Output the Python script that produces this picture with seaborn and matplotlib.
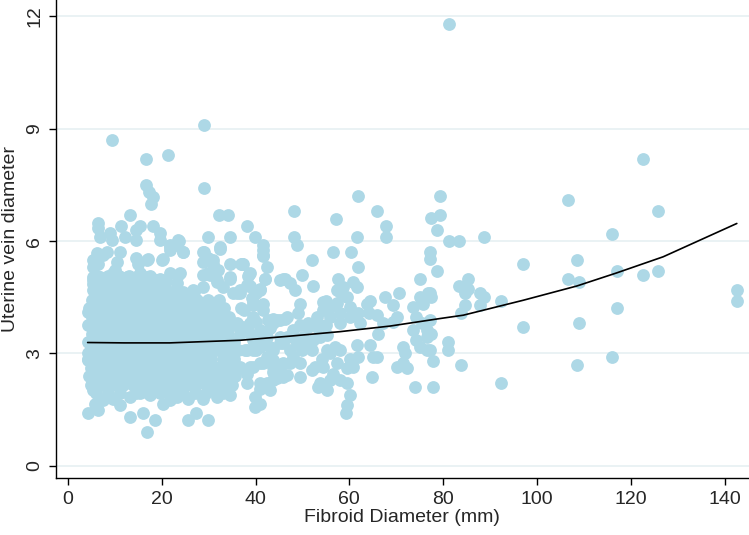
import numpy as np
import pandas as pd
import matplotlib
matplotlib.use('Agg')
import matplotlib.pyplot as plt
import seaborn as sns

# fibroid diameter (mm), uterine vein diameter
# sparse right tail
tail_pts = [(81.3, 11.8), (122.7, 8.2), (79.3, 7.2), (106.6, 7.09), (125.9, 6.8), (77.5, 6.61),
            (79.3, 6.69), (78.6, 6.29), (115.9, 6.19), (81.3, 6.0), (83.4, 6.0), (88.6, 6.1),
            (77.2, 5.71), (77.2, 5.51), (78.6, 5.21), (97.0, 5.39), (108.6, 5.5), (106.6, 4.99),
            (109.0, 4.9), (117.0, 5.2), (122.7, 5.1), (125.9, 5.2), (85.3, 4.99), (83.4, 4.8),
            (85.3, 4.71), (84.6, 4.6), (87.9, 4.6), (88.6, 4.5), (92.3, 4.4), (84.6, 4.3),
            (87.9, 4.3), (83.9, 4.09), (77.2, 4.6), (77.5, 4.5), (142.6, 4.7), (142.6, 4.4),
            (77.2, 3.89), (77.5, 3.51), (81.0, 3.3), (81.0, 3.1), (97.0, 3.7), (109.0, 3.8),
            (117.0, 4.2), (77.2, 3.1), (77.8, 2.79), (83.9, 2.69), (108.6, 2.69), (115.9, 2.89),
            (92.3, 2.2), (77.8, 2.1)]

# middle band 36-77 mm
mid_pts = [(61.9, 7.2), (48.3, 6.8), (57.2, 6.6), (65.8, 6.8), (67.9, 6.4), (67.9, 6.1),
           (38.2, 6.4), (39.9, 6.1), (41.6, 5.89), (41.6, 5.76), (41.6, 5.6), (48.3, 6.1),
           (48.8, 5.89), (61.6, 6.1), (56.6, 5.7), (60.3, 5.7), (52.0, 5.49), (61.9, 5.3),
           (42.4, 5.3), (37.4, 5.4), (38.7, 5.12), (42.0, 5.0), (38.7, 4.8), (40.9, 4.71),
           (45.9, 5.0), (47.3, 4.89), (48.4, 4.69), (49.8, 5.09), (52.3, 4.8), (57.5, 5.0),
           (60.8, 4.91), (61.6, 4.78), (58.0, 4.64), (59.4, 4.51), (55.0, 4.4), (55.9, 4.24),
           (57.3, 4.35), (58.0, 4.07), (60.1, 4.24), (64.4, 4.4), (67.6, 4.51), (70.6, 4.6),
           (69.2, 4.29), (75.1, 5.0), (76.8, 4.6), (36.7, 4.6), (37.5, 4.16), (39.5, 4.38),
           (39.5, 3.98), (41.6, 4.16), (42.7, 3.89), (44.5, 3.89), (46.3, 3.93), (49.5, 4.32),
           (49.1, 4.07), (51.2, 3.71), (49.5, 3.75), (55.0, 3.75), (55.9, 3.98), (58.0, 3.8),
           (60.1, 3.98), (61.9, 4.07), (62.3, 3.8), (64.2, 4.07), (65.8, 4.02), (67.2, 3.8),
           (69.4, 3.84), (70.1, 3.98), (73.6, 4.24), (74.3, 3.98), (75.4, 3.8), (76.5, 3.62),
           (66.2, 3.53), (64.4, 3.22), (65.1, 2.91), (64.8, 2.37), (61.6, 3.22), (61.9, 2.91),
           (60.1, 2.86), (60.8, 2.64), (59.4, 2.6), (59.4, 2.2), (60.1, 1.88), (59.4, 1.62),
           (59.3, 1.4), (58.0, 3.09), (57.0, 3.17), (55.9, 3.0), (57.3, 2.73), (56.6, 2.46),
           (58.0, 2.28), (55.9, 2.28), (55.2, 2.02), (55.2, 3.09), (54.1, 2.86), (54.4, 2.64),
           (52.7, 2.64), (52.0, 2.55), (53.7, 2.2), (53.4, 2.11), (52.0, 3.09), (52.3, 3.35),
           (49.8, 3.09), (49.5, 2.73), (49.5, 2.37), (48.0, 2.91), (47.3, 2.73), (45.9, 2.73),
           (45.2, 2.55), (45.9, 2.37), (43.8, 2.51), (43.8, 2.28), (43.1, 2.02), (40.9, 2.2),
           (39.9, 1.84), (39.9, 1.57), (40.9, 1.66), (42.4, 2.2), (38.8, 2.64), (38.1, 2.2),
           (36.7, 2.64), (38.1, 3.09), (40.9, 2.73), (40.2, 3.09), (42.4, 3.44), (45.2, 3.44),
           (43.8, 3.09), (45.9, 3.27), (47.7, 3.44), (48.0, 3.62), (50.2, 3.44), (50.9, 3.27),
           (53.7, 3.44), (55.2, 3.49), (65.8, 2.91), (74.0, 2.11), (70.1, 2.64), (71.5, 2.73),
           (71.9, 3.0), (71.5, 3.17), (72.2, 2.6), (73.6, 3.62), (74.3, 3.35), (75.1, 3.17),
           (76.5, 3.09), (76.5, 3.44), (75.1, 4.51), (75.8, 4.33), (43.8, 3.8), (40.9, 3.62),
           (38.8, 3.8), (37.4, 3.71), (36.7, 3.53), (39.5, 3.35), (37.7, 3.09), (40.9, 3.17),
           (42.4, 2.91), (43.8, 2.82), (47.3, 3.09), (48.8, 3.27), (51.2, 3.8), (53.0, 3.98),
           (53.0, 3.71), (54.4, 4.16), (57.3, 4.69), (58.7, 4.78), (63.7, 4.33), (54.4, 4.38)]

# upper edge of the main cloud
upper_pts = [(29.0, 9.1), (9.3, 8.7), (16.6, 8.19), (21.3, 8.3), (16.6, 7.51), (17.3, 7.32),
             (18.1, 7.18), (17.7, 6.99), (29.0, 7.41), (13.2, 6.69), (32.3, 6.69), (34.2, 6.69),
             (6.5, 6.49), (6.5, 6.34), (11.3, 6.4), (15.4, 6.4), (14.6, 6.29), (18.1, 6.4),
             (19.6, 6.21), (19.6, 6.03), (9.0, 6.21), (9.3, 6.03), (6.8, 6.11), (12.2, 6.11),
             (14.6, 6.03), (21.7, 5.85), (23.5, 6.03), (24.6, 5.71), (29.9, 6.11), (34.5, 6.11),
             (32.4, 5.85), (29.0, 5.71), (29.9, 5.54), (31.0, 5.4), (34.5, 5.4), (34.5, 5.05),
             (37.2, 5.4), (38.8, 5.14), (11.1, 5.71), (7.4, 5.63), (6.5, 5.4), (6.1, 5.54),
             (16.8, 5.49), (15.0, 5.4), (20.0, 5.49), (10.4, 5.45), (10.0, 5.23), (5.4, 5.31),
             (5.4, 5.05), (6.8, 5.05), (12.5, 5.05), (14.6, 5.05), (16.8, 5.05), (19.6, 5.0),
             (21.7, 5.14), (23.9, 5.14), (26.7, 4.69), (28.9, 4.78), (31.7, 4.96), (33.1, 4.78),
             (36.7, 4.69), (38.1, 4.82), (40.2, 4.6), (29.9, 5.14), (35.2, 4.6), (5.4, 5.49),
             (6.1, 5.67), (8.3, 5.71), (14.6, 5.54), (17.1, 5.51), (20.2, 5.51), (21.7, 5.76),
             (23.2, 5.89), (5.4, 4.96), (7.5, 5.0), (9.7, 5.14), (15.4, 5.14), (18.2, 5.0),
             (21.0, 4.96), (23.2, 4.87), (5.4, 4.69), (8.3, 4.69), (11.1, 4.78), (13.9, 4.64),
             (16.8, 4.69), (19.6, 4.78), (22.5, 4.6), (6.8, 4.33), (10.4, 4.38), (13.2, 4.42),
             (16.8, 4.33), (19.6, 4.42), (22.5, 4.29), (23.7, 6.0), (21.7, 5.89), (41.6, 5.63),
             (42.0, 4.98), (40.9, 4.69), (38.8, 4.8), (38.4, 5.06), (37.0, 5.4), (32.4, 5.8),
             (31.0, 5.49), (28.8, 5.71), (28.8, 5.45), (32.0, 5.22), (31.7, 4.91), (30.3, 5.09),
             (28.8, 5.09), (24.6, 5.71), (23.5, 5.09), (34.5, 5.0), (36.0, 4.6), (39.2, 4.47),
             (41.6, 4.33), (45.2, 4.96), (46.3, 5.0)]

# lower edge and right flank of the main cloud
low_pts = [(4.3, 4.11), (4.3, 3.75), (4.3, 2.82), (4.3, 3.02), (5.1, 2.28), (5.4, 2.02),
           (4.3, 1.4), (6.5, 1.48), (5.8, 1.66), (7.5, 1.75), (9.7, 1.79), (11.1, 1.62),
           (13.2, 1.3), (16.1, 1.4), (18.6, 1.22), (16.9, 0.89), (13.2, 1.84), (15.4, 1.93),
           (17.5, 1.88), (20.3, 1.66), (19.6, 1.93), (21.7, 1.75), (21.0, 2.02), (25.6, 1.22),
           (27.4, 1.4), (29.9, 1.22), (23.2, 1.84), (25.6, 1.79), (28.8, 1.79), (31.7, 1.84),
           (34.5, 1.88), (31.3, 2.02), (33.1, 2.06), (40.9, 2.06), (44.5, 2.33), (46.6, 2.42),
           (37.0, 4.2), (39.5, 4.29), (43.8, 3.93), (45.2, 3.89), (46.6, 3.98), (43.1, 3.67),
           (38.8, 3.53), (36.0, 3.8), (40.2, 3.84), (40.9, 3.35), (39.5, 3.09), (43.1, 3.17),
           (45.2, 3.27), (46.6, 3.44), (43.8, 2.64), (41.6, 2.73), (39.5, 2.64), (38.1, 2.46),
           (34.5, 2.37), (32.4, 2.64), (33.1, 2.28), (30.3, 2.37), (27.4, 2.46), (24.6, 2.28),
           (23.2, 2.11)]

# dense core 4-36 mm, read row by row
core_y = [1.95, 2.15, 2.40, 2.62, 2.85, 3.08, 3.30, 3.52, 3.75, 3.97, 4.20, 4.42, 4.64, 4.86, 5.08]
core_x = [
    [6.0, 8.5, 11.0, 14.5, 17.0, 22.0, 24.5, 27.0, 29.5, 33.0],
    [5.0, 7.2, 9.4, 11.8, 13.9, 16.1, 18.4, 20.6, 22.9, 25.1, 27.3, 29.6, 31.8, 34.9],
    [4.4, 6.1, 8.3, 10.5, 12.8, 15.0, 17.2, 19.5, 21.7, 24.0, 26.2, 28.4, 30.7, 33.0, 35.6],
    [5.0, 7.2, 9.4, 11.6, 13.9, 16.1, 18.3, 20.6, 22.8, 25.1, 27.3, 29.5, 31.8, 34.2, 36.4],
    [4.3, 6.1, 8.3, 10.6, 12.8, 15.0, 17.3, 19.5, 21.7, 24.0, 26.2, 28.5, 30.6, 33.1, 35.4],
    [5.0, 7.2, 9.5, 11.7, 13.9, 16.2, 18.4, 20.6, 22.9, 25.1, 27.4, 29.6, 31.9, 34.1, 36.2],
    [4.3, 6.1, 8.4, 10.6, 12.8, 15.1, 17.3, 19.5, 21.8, 24.0, 26.3, 28.5, 30.8, 33.0, 35.3],
    [5.1, 7.3, 9.5, 11.7, 14.0, 16.2, 18.4, 20.7, 22.9, 25.2, 27.4, 29.7, 31.9, 34.2],
    [4.4, 6.2, 8.4, 10.6, 12.9, 15.1, 17.3, 19.6, 21.8, 24.1, 26.3, 28.6, 30.8, 33.1, 35.5],
    [5.1, 7.3, 9.5, 11.8, 14.0, 16.2, 18.5, 20.7, 23.0, 25.2, 27.5, 29.7, 32.0, 34.4],
    [4.4, 6.2, 8.4, 10.7, 12.9, 15.1, 17.4, 19.6, 21.9, 24.1, 26.4, 28.6, 30.9, 33.3],
    [5.2, 7.3, 9.6, 11.8, 14.0, 16.3, 18.5, 20.8, 23.0, 25.3, 27.5, 29.9, 32.2],
    [6.2, 8.5, 10.7, 12.9, 15.2, 17.4, 19.7, 21.9, 24.5, 26.8],
    [5.3, 7.4, 9.6, 11.9, 14.1, 16.3, 18.6, 20.8],
    [6.3, 8.6, 10.8, 13.0, 15.3, 17.5],
]

# fitted curve (quadratic fit)
fit_x = [4.2, 12.0, 21.7, 36.7, 47.3, 58.0, 68.7, 79.3, 84.3, 97.1, 108.5, 117.0, 126.9, 142.6]
fit_y = [3.29, 3.28, 3.28, 3.35, 3.46, 3.58, 3.73, 3.93, 4.02, 4.42, 4.80, 5.15, 5.58, 6.47]

core_pts = [(x, y) for y, xs in zip(core_y, core_x) for x in xs]
df = pd.DataFrame(tail_pts + mid_pts + upper_pts + low_pts + core_pts,
                  columns=['fibroid', 'vein'])

sns.set_style('white')
plt.rcParams['font.family'] = ['Liberation Sans', 'DejaVu Sans']

fig = plt.figure(figsize=(7.49, 5.35), dpi=100)
ax = fig.add_axes([0.0744, 0.1065, 0.9256, 0.8935])

for yv in [0, 3, 6, 9, 12]:
    ax.axhline(yv, color='#e8f1f3', lw=1.3, zorder=0)

sns.scatterplot(data=df, x='fibroid', y='vein', color='#add8e6', s=85,
                linewidth=0, alpha=1, ax=ax, zorder=2)
sns.lineplot(x=fit_x, y=fit_y, color='black', lw=1.2, ax=ax, zorder=3,
             estimator=None, sort=True)

ax.set_xlim(-2.6, 145.2)
ax.set_ylim(-0.33, 12.44)
ax.set_xticks(range(0, 141, 20))
ax.set_yticks([0, 3, 6, 9, 12])
ax.tick_params(which='both', bottom=True, left=True, direction='out', length=5,
               width=1, color='black', labelsize=14, pad=4)
for lbl in ax.get_yticklabels():
    lbl.set_rotation(90)
    lbl.set_va('center')

ax.set_xlabel('Fibroid Diameter (mm)', fontsize=14, labelpad=1)
ax.set_ylabel('Uterine vein diameter', fontsize=14, labelpad=5)

for side in ['top', 'right']:
    ax.spines[side].set_visible(False)
for side in ['left', 'bottom']:
    ax.spines[side].set_color('black')
    ax.spines[side].set_linewidth(1)

fig.savefig('out.png', dpi=100)
